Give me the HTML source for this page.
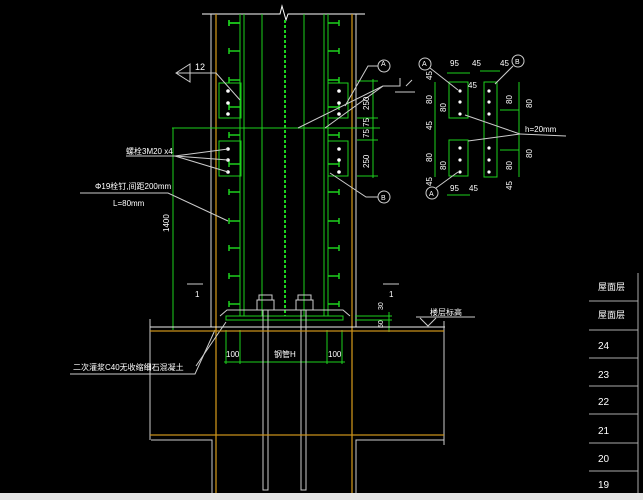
<!DOCTYPE html>
<html><head><meta charset="utf-8"><style>
html,body{margin:0;padding:0;background:#000;}
svg{display:block}
text{font-family:"Liberation Sans","Noto Sans CJK SC",sans-serif;fill:#fff;}
</style></head><body>
<svg width="643" height="500" viewBox="0 0 643 500" xmlns="http://www.w3.org/2000/svg">
<rect width="643" height="500" fill="#000"/>
<!-- top break line -->
<polyline points="202,14 280,14 282,6 286,20 288,14 365,14" stroke="#fff" fill="none" stroke-width="1"/>
<!-- column outer white -->
<line x1="211" y1="14" x2="211" y2="327" stroke="#ddd"/>
<line x1="356" y1="14" x2="356" y2="327" stroke="#ddd"/>
<line x1="216" y1="14" x2="216" y2="493" stroke="#c8901a" stroke-width="1.3"/>
<line x1="352" y1="14" x2="352" y2="493" stroke="#c8901a" stroke-width="1.3"/>
<!-- steel column green -->
<g stroke="#1dd01d" stroke-width="1" fill="none">
<line x1="240" y1="14" x2="240" y2="316"/>
<line x1="244" y1="14" x2="244" y2="316"/>
<line x1="262" y1="14" x2="262" y2="316"/>
<line x1="304" y1="14" x2="304" y2="316"/>
<line x1="324" y1="14" x2="324" y2="316"/>
<line x1="328" y1="14" x2="328" y2="316"/>
<line x1="285" y1="20" x2="285" y2="316" stroke-dasharray="3,2" stroke-width="2"/>
<line x1="172" y1="128" x2="380" y2="128"/>
<rect x="219" y="83" width="22" height="35"/>
<rect x="219" y="141" width="22" height="35"/>
<rect x="328" y="83" width="20" height="35"/>
<rect x="328" y="141" width="20" height="35"/>
<line x1="219" y1="118" x2="241" y2="118"/><line x1="328" y1="118" x2="348" y2="118"/>
<!-- dim right -->
<line x1="357" y1="81" x2="378" y2="81"/>
<line x1="357" y1="176" x2="378" y2="176"/>
<line x1="357" y1="118" x2="378" y2="118"/>
<line x1="357" y1="140" x2="378" y2="140"/>
<line x1="373" y1="79" x2="373" y2="178"/>
<!-- left dim -->
<line x1="173" y1="128" x2="173" y2="328"/>
<!-- base plate -->
<rect x="226" y="316" width="117" height="4"/>
<line x1="355" y1="316" x2="392" y2="316"/>
<line x1="355" y1="320" x2="392" y2="320"/>
<line x1="389" y1="312" x2="389" y2="332"/>
<!-- 100 dims -->
<line x1="224" y1="362" x2="345" y2="362"/>
<line x1="226" y1="330" x2="226" y2="364"/>
<line x1="240" y1="330" x2="240" y2="364"/>
<line x1="327" y1="330" x2="327" y2="364"/>
<line x1="342" y1="330" x2="342" y2="364"/>
<line x1="173" y1="250" x2="173" y2="330"/>
</g>
<!-- studs -->
<g stroke="#1dd01d" stroke-width="1.5" fill="none">
<path id="s" d="M229 23 h11 M229 20 v6"/>
</g>
<g stroke="#1dd01d" stroke-width="1.5">
<path d="M229 23h11M229 51h11M229 80h11M229 107h11M229 135h11M229 164h11M229 192h11M229 221h11M229 248h11M229 276h11M229 304h11
M328 23h11M328 51h11M328 80h11M328 107h11M328 135h11M328 164h11M328 192h11M328 221h11M328 248h11M328 276h11M328 304h11"/>
<path d="M229 20v6M229 48v6M229 77v6M229 104v6M229 132v6M229 161v6M229 189v6M229 218v6M229 245v6M229 273v6M229 301v6
M339 20v6M339 48v6M339 77v6M339 104v6M339 132v6M339 161v6M339 189v6M339 218v6M339 245v6M339 273v6M339 301v6"/>
</g>
<!-- bolts -->
<g fill="#fff">
<circle cx="228" cy="91" r="1.8"/><circle cx="228" cy="103" r="1.8"/><circle cx="228" cy="114" r="1.8"/>
<circle cx="228" cy="149" r="1.8"/><circle cx="228" cy="160" r="1.8"/><circle cx="228" cy="172" r="1.8"/>
<circle cx="339" cy="91" r="1.8"/><circle cx="339" cy="103" r="1.8"/><circle cx="339" cy="114" r="1.8"/>
<circle cx="339" cy="149" r="1.8"/><circle cx="339" cy="160" r="1.8"/><circle cx="339" cy="172" r="1.8"/>
</g>
<!-- leaders -->
<g stroke="#ccc" fill="none" stroke-width="1">
<polyline points="176,73 216,73 240,100"/>
<polygon points="176,73 190,64 190,82"/>
<polyline points="126,156 175,156 228,149"/>
<line x1="175" y1="156" x2="228" y2="160"/>
<line x1="175" y1="156" x2="228" y2="172"/>
<polyline points="80,193 168,193 228,221"/>
<polyline points="298,128 383,86"/>
<polyline points="325,128 383,86 400,86 400,78"/>
<polyline points="345,106 368,66 378,66"/>
<circle cx="384" cy="66" r="6"/>
<polyline points="330,173 366,197 378,197"/>
<circle cx="384" cy="197" r="6"/>
<polyline points="406,86 412,80"/>
<polyline points="196,366 226,322"/>
<polyline points="70,374 195,374 215,330"/>
<!-- ground & footing -->
<line x1="150" y1="327" x2="445" y2="327" stroke="#eee"/>
<polyline points="150,319 150,440"/>
<polyline points="444,321 444,445"/>
<polyline points="151,440 212,440 212,493"/>
<polyline points="444,440 356,440 356,493"/>
<line x1="416" y1="317" x2="475" y2="317"/>
<polyline points="420,318 428,326 436,318"/>
<polyline points="220,316 227,310 343,310 350,316"/>
<rect x="263" y="310" width="5" height="180"/>
<rect x="301" y="310" width="5" height="180"/>
<rect x="257" y="300" width="17" height="10"/>
<rect x="296" y="300" width="17" height="10"/>
<rect x="259" y="295" width="13" height="5"/>
<rect x="298" y="295" width="13" height="5"/>
<line x1="187" y1="284" x2="203" y2="284"/>
<line x1="383" y1="284" x2="399" y2="284"/>
</g>
<line x1="150" y1="331" x2="444" y2="331" stroke="#c8901a" stroke-width="1.3"/>
<line x1="150" y1="435" x2="444" y2="435" stroke="#c8901a" stroke-width="1.3"/>
<!-- texts left -->
<g font-size="8">
<text x="195" y="70" font-size="9">12</text>
<text x="126" y="154">螺栓3M20 x4</text>
<text x="95" y="189">Φ19栓钉,间距200mm</text>
<text x="113" y="206">L=80mm</text>
<text x="169" y="232" transform="rotate(-90 169 232)" font-size="8">1400</text>
<text x="195" y="297">1</text>
<text x="389" y="297">1</text>
<text x="73" y="370" font-size="8">二次灌浆C40无收缩细石混凝土</text>
<text x="226" y="357">100</text>
<text x="328" y="357">100</text>
<text x="274" y="357">钢管H</text>
<text x="430" y="315">楼层标高</text>
<text x="383" y="310" transform="rotate(-90 383 310)" font-size="7">30</text>
<text x="383" y="328" transform="rotate(-90 383 328)" font-size="7">50</text>
<text x="369" y="110" transform="rotate(-90 369 110)" font-size="8">250</text>
<text x="369" y="138" transform="rotate(-90 369 138)" font-size="8">75 75</text>
<text x="369" y="168" transform="rotate(-90 369 168)" font-size="8">250</text>
<text x="381" y="66" font-size="7">A</text>
<text x="381" y="200" font-size="7">B</text>
</g>
<!-- right detail -->
<g stroke="#1dd01d" fill="none">
<rect x="449" y="82" width="19" height="36"/>
<rect x="449" y="140" width="19" height="36"/>
<rect x="484" y="82" width="13" height="95"/>
<line x1="435" y1="82" x2="435" y2="177"/>
<line x1="519" y1="82" x2="519" y2="177"/>
<line x1="447" y1="73" x2="470" y2="73"/>
<line x1="480" y1="71" x2="500" y2="71"/>
<line x1="447" y1="195" x2="470" y2="195"/>
<line x1="500" y1="110" x2="519" y2="110"/><line x1="500" y1="150" x2="519" y2="150"/>
</g>
<g fill="#fff">
<circle cx="460" cy="91" r="1.6"/><circle cx="460" cy="102" r="1.6"/><circle cx="460" cy="114" r="1.6"/>
<circle cx="460" cy="148" r="1.6"/><circle cx="460" cy="160" r="1.6"/><circle cx="460" cy="172" r="1.6"/>
<circle cx="489" cy="91" r="1.6"/><circle cx="489" cy="102" r="1.6"/><circle cx="489" cy="114" r="1.6"/>
<circle cx="489" cy="148" r="1.6"/><circle cx="489" cy="160" r="1.6"/><circle cx="489" cy="172" r="1.6"/>
</g>
<g stroke="#ccc" fill="none">
<circle cx="425" cy="64" r="6"/><circle cx="518" cy="61" r="6"/><circle cx="432" cy="193" r="6"/>
<line x1="430" y1="68" x2="458" y2="90"/><line x1="436" y1="188" x2="458" y2="172"/>
<line x1="513" y1="66" x2="495" y2="84"/>
<line x1="465" y1="115" x2="520" y2="134"/><line x1="468" y1="141" x2="520" y2="134"/>
<line x1="520" y1="134" x2="566" y2="136"/>
<line x1="395" y1="92" x2="415" y2="92"/>
</g>
<g font-size="8">
<text x="450" y="66">95</text><text x="472" y="66">45</text><text x="500" y="66">45</text>
<text x="468" y="88">45</text><text x="525" y="132">h=20mm</text>
<text x="450" y="191">95</text><text x="469" y="191">45</text>
<text x="422" y="66" font-size="7">A</text><text x="515" y="64" font-size="7">B</text><text x="429" y="196" font-size="7">A</text>
<text x="432" y="80" transform="rotate(-90 432 80)">45</text>
<text x="432" y="104" transform="rotate(-90 432 104)">80</text>
<text x="432" y="130" transform="rotate(-90 432 130)">45</text>
<text x="432" y="162" transform="rotate(-90 432 162)">80</text>
<text x="432" y="186" transform="rotate(-90 432 186)">45</text>
<text x="446" y="112" transform="rotate(-90 446 112)">80</text>
<text x="446" y="170" transform="rotate(-90 446 170)">80</text>
<text x="512" y="104" transform="rotate(-90 512 104)">80</text>
<text x="512" y="170" transform="rotate(-90 512 170)">80</text>
<text x="532" y="108" transform="rotate(-90 532 108)">80</text>
<text x="532" y="158" transform="rotate(-90 532 158)">80</text>
<text x="512" y="190" transform="rotate(-90 512 190)">45</text>
</g>
<!-- table -->
<g stroke="#aaa">
<line x1="638" y1="273" x2="638" y2="493"/>
<line x1="589" y1="301" x2="638" y2="301"/>
<line x1="589" y1="330" x2="638" y2="330"/>
<line x1="589" y1="358" x2="638" y2="358"/>
<line x1="589" y1="386" x2="638" y2="386"/>
<line x1="589" y1="414" x2="638" y2="414"/>
<line x1="589" y1="443" x2="638" y2="443"/>
<line x1="589" y1="471" x2="638" y2="471"/>
</g>
<g font-size="10">
<text x="598" y="290" font-size="9">屋面层</text>
<text x="598" y="318" font-size="9">屋面层</text>
<text x="598" y="349">24</text><text x="598" y="378">23</text>
<text x="598" y="405">22</text><text x="598" y="434">21</text>
<text x="598" y="462">20</text><text x="598" y="488">19</text>
</g>
<rect x="0" y="493" width="643" height="7" fill="#e6e6e6"/>
</svg>
</body></html>
